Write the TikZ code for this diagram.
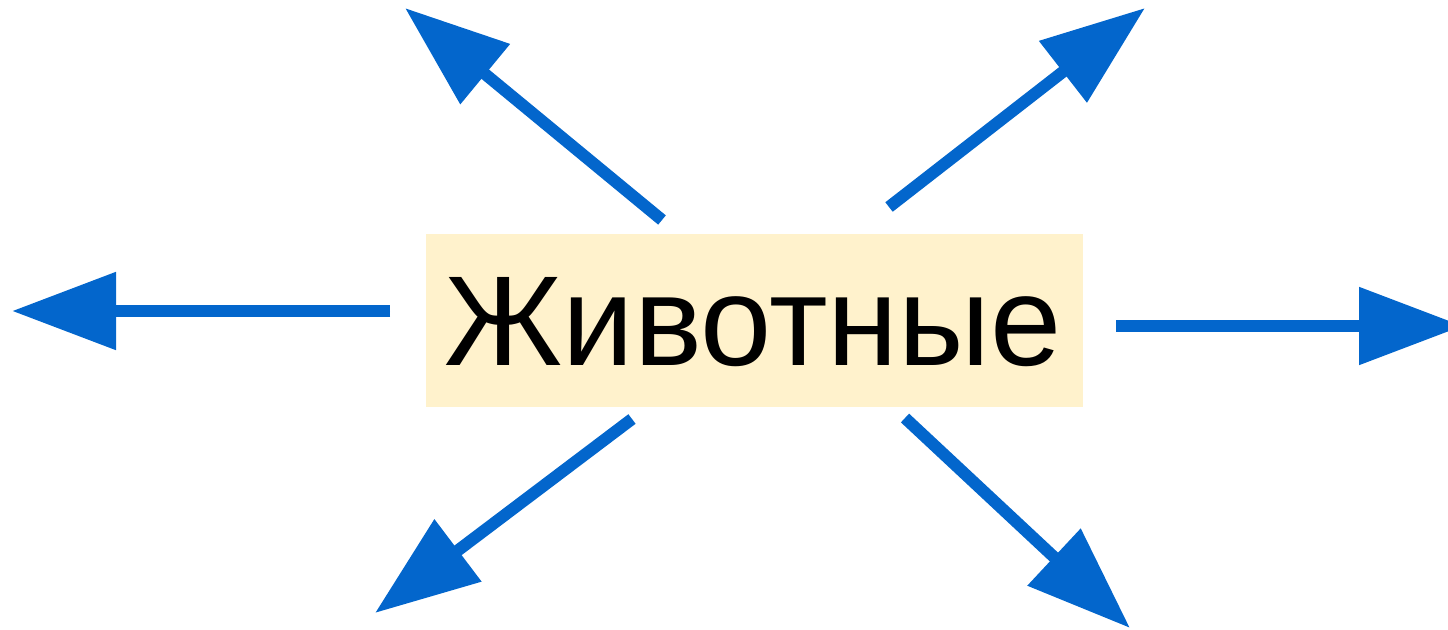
\documentclass[tikz,border=0pt]{standalone}
\usepackage{fontspec}
\setmainfont{Liberation Sans}
\usetikzlibrary{arrows.meta}
\definecolor{arrowblue}{HTML}{0366CC}
\definecolor{boxfill}{HTML}{FFF2CC}
\tikzset{
  bigarrow/.style={draw=arrowblue, line width=12pt, -{Triangle[length=104pt,width=75pt]}, fill=arrowblue},
  labelbox/.style={fill=boxfill, inner sep=0pt, minimum width=657pt, minimum height=173pt, font=\fontsize{128pt}{150pt}\selectfont}
}
\begin{document}
\begin{tikzpicture}[x=1pt,y=-1pt]
\useasboundingbox (0,0) rectangle (1448,629);
\node[labelbox] (box) at (754.5,320.5) {};
\node[inner sep=0pt, anchor=base, font=\fontsize{128pt}{150pt}\selectfont] (lbl) at (753,365) {Животные};
% start points
\coordinate (sL) at (390,311);
\coordinate (sR) at (1116,326);
\coordinate (sUL) at (662,220);
\coordinate (sUR) at (889,207);
\coordinate (sDL) at (632,419);
\coordinate (sDR) at (905,418);
% tips
\coordinate (tL) at (12,311);
\coordinate (tR) at (1463,326);
\coordinate (tUL) at (405,8);
\coordinate (tUR) at (1145,8);
\coordinate (tDL) at (375,613);
\coordinate (tDR) at (1130,628);
\draw[bigarrow] (sL) -- (tL);
\draw[bigarrow] (sR) -- (tR);
\draw[bigarrow] (sUL) -- (tUL);
\draw[bigarrow] (sUR) -- (tUR);
\draw[bigarrow] (sDL) -- (tDL);
\draw[bigarrow] (sDR) -- (tDR);
\end{tikzpicture}
\end{document}
